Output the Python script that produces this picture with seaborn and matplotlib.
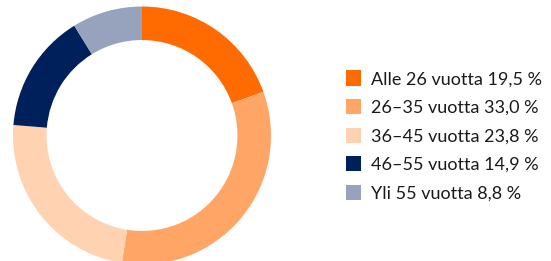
import matplotlib
matplotlib.use("Agg")
import matplotlib.pyplot as plt
import seaborn as sns
from matplotlib.patches import Rectangle

categories = ["Alle 26 vuotta", "26–35 vuotta", "36–45 vuotta", "46–55 vuotta", "Yli 55 vuotta"]
values = [19.5, 33.0, 23.8, 14.9, 8.8]
labels = ["Alle 26 vuotta 19,5 %", "26–35 vuotta 33,0 %", "36–45 vuotta 23,8 %",
          "46–55 vuotta 14,9 %", "Yli 55 vuotta 8,8 %"]
colors = ["#FF6B00", "#FFA566", "#FFD2B2", "#00205B", "#97A3BC"]

sns.set_theme(style="white")
plt.rcParams["font.family"] = ["Lato", "DejaVu Sans"]

W, H = 551, 261
fig = plt.figure(figsize=(W / 100, H / 100), dpi=100)
fig.patch.set_facecolor("white")

cx, cy, r = 142, 135.5, 129
ax = fig.add_axes([(cx - r) / W, (H - cy - r) / H, 2 * r / W, 2 * r / H])
ax.pie(values, colors=colors, startangle=90, counterclock=False, radius=1,
       wedgeprops=dict(width=0.26, linewidth=0))
ax.set_xlim(-1, 1)
ax.set_ylim(-1, 1)
ax.set_aspect("equal")
ax.axis("off")

y0, dy = 78, 28.5
for i, (lab, col) in enumerate(zip(labels, colors)):
    yc = y0 + i * dy
    fig.patches.append(Rectangle((346 / W, (H - yc - 7.5) / H), 15 / W, 15 / H,
                                 transform=fig.transFigure, facecolor=col,
                                 edgecolor="none", figure=fig))
    fig.text(371 / W, (H - yc) / H, lab, ha="left", va="center_baseline",
             fontsize=13, color="#1a1a1a")

fig.savefig("out.png", dpi=100, facecolor="white")
